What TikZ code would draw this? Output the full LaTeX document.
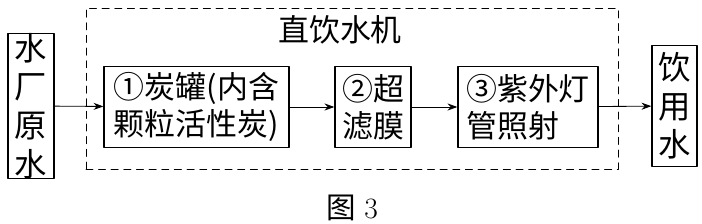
\documentclass[tikz,border=0pt]{standalone}
\usepackage{fontspec}
\newfontfamily\cjk{Noto Sans CJK SC}
\usetikzlibrary{arrows.meta}

\begin{document}
\begin{tikzpicture}[line cap=round,line join=round,
  box/.style={draw,line width=0.9pt,inner sep=0pt,font=\cjk\fontsize{22}{26}\selectfont},
  flow/.style={-{Stealth[length=7pt,width=5pt]},line width=0.6pt}]
  \useasboundingbox (0,0) rectangle (17.55,5.6);
  \draw[dashed,line width=0.6pt,dash pattern=on 5pt off 4pt] (2.15,1.375) rectangle (15.45,5.4);
  \node[font=\cjk\fontsize{22}{26}\selectfont] (title) at (8.5,4.85) {直饮水机};
  \node[box,minimum width=1.15cm,minimum height=3.475cm,align=center,font=\cjk\fontsize{23}{27.5}\selectfont] (src) at (0.775,2.95) {水\\厂\\原\\水};
  \node[box,minimum width=4.625cm,minimum height=2.025cm,align=left] (tank) at (4.9125,2.925) {①炭罐(内含\\颗粒活性炭)};
  \node[box,minimum width=1.9cm,minimum height=2.025cm,align=left] (membrane) at (9.325,2.925) {②超\\滤膜};
  \node[box,minimum width=3.5cm,minimum height=2.025cm,align=left] (uv) at (13.2,2.925) {③紫外灯\\管照射};
  \node[box,minimum width=1.125cm,minimum height=3.025cm,align=center,font=\cjk\fontsize{23}{27.5}\selectfont] (out) at (16.8625,2.95) {饮\\用\\水};
  \draw[flow] (src)--(tank); \draw[flow] (tank)--(membrane);
  \draw[flow] (membrane)--(uv); \draw[flow] (uv)--(out);
  \node[font=\fontsize{21}{24}\selectfont] (cap) at (8.8,0.4) {{\cjk 图}\ 3};
\end{tikzpicture}
\end{document}
